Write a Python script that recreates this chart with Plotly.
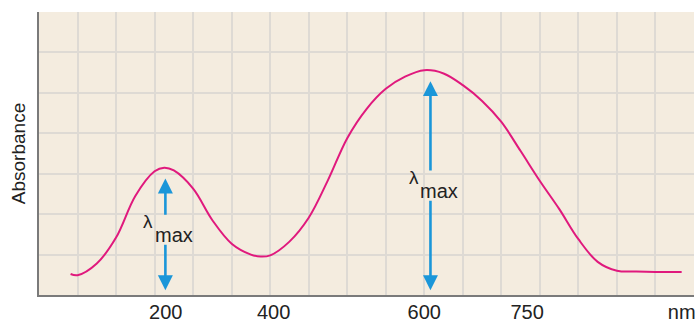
import plotly.graph_objects as go

# Curve (x in grid units, absorbance in grid units)
wave_pos = [0.82, 1.0, 1.5, 2.0, 2.5, 3.0, 3.25, 3.5, 4.0, 4.5, 5.0, 5.5, 5.75,
            6.0, 6.5, 7.0, 7.5, 8.0, 8.5, 9.0, 9.5, 10.0, 10.5, 11.0, 11.5, 12.0,
            12.5, 13.0, 13.5, 14.0, 14.5, 15.0, 15.5, 16.0, 16.68]
absorbance = [0.52, 0.49, 0.78, 1.42, 2.45, 3.06, 3.15, 3.08, 2.63, 1.85, 1.27, 1.00,
              0.95, 0.98, 1.32, 1.91, 2.84, 3.88, 4.60, 5.10, 5.40, 5.56, 5.48, 5.19,
              4.80, 4.28, 3.56, 2.82, 2.13, 1.38, 0.82, 0.60, 0.58, 0.57, 0.57]

tick_pos = [3.29, 6.09, 10.0, 12.67, 16.68]
tick_labels = ["200", "400", "600", "750", "nm"]

# lambda max markers: peak position, peak height, label gap (low, high)
peak_x = [3.28, 10.16]
peak_y = [3.15, 5.56]
gap_lo = [1.28, 2.37]
gap_hi = [1.95, 3.04]

BG = "#f4ecdf"
GRID = "#dedad4"
AXIS = "#7a7a7a"
CURVE = "#e0197d"
ARROW = "#1a96d9"
TEXT = "#222222"

fig = go.Figure()
fig.add_trace(
    go.Scatter(
        x=wave_pos,
        y=absorbance,
        mode="lines",
        line=dict(color=CURVE, width=2, shape="spline", smoothing=1),
        hoverinfo="skip",
    )
)
# invisible trace to hold the labelled axis
fig.add_trace(go.Scatter(x=tick_pos, y=[0] * len(tick_pos), xaxis="x2",
                         mode="markers", marker=dict(opacity=0), hoverinfo="skip"))

annotations = []
for px, py, lo, hi in zip(peak_x, peak_y, gap_lo, gap_hi):
    # upper arrow
    annotations.append(dict(x=px, y=py - 0.27, ax=px, ay=hi, xref="x", yref="y",
                            axref="x", ayref="y", text="", showarrow=True,
                            arrowhead=2, arrowsize=1.15, arrowwidth=2.6,
                            arrowcolor=ARROW, standoff=0, startstandoff=0))
    # lower arrow
    annotations.append(dict(x=px, y=0.12, ax=px, ay=lo, xref="x", yref="y",
                            axref="x", ayref="y", text="", showarrow=True,
                            arrowhead=2, arrowsize=1.15, arrowwidth=2.6,
                            arrowcolor=ARROW, standoff=0, startstandoff=0))
    annotations.append(dict(x=px - 0.44, y=(lo + hi) / 2 + 0.2, xref="x", yref="y",
                            text="λ", showarrow=False,
                            font=dict(size=19, color=TEXT)))
    annotations.append(dict(x=px + 0.22, y=(lo + hi) / 2 - 0.13, xref="x", yref="y",
                            text="max", showarrow=False,
                            font=dict(size=20, color=TEXT)))

fig.update_layout(
    width=699,
    height=324,
    margin=dict(l=39, r=5, t=12, b=29),
    paper_bgcolor="white",
    plot_bgcolor=BG,
    showlegend=False,
    font=dict(family="Liberation Sans, Arial, sans-serif", color=TEXT),
    annotations=annotations,
    xaxis=dict(
        range=[0, 17], dtick=1, tick0=0, showgrid=True, gridcolor=GRID, gridwidth=2,
        showticklabels=False, ticks="", zeroline=False, automargin=False,
        showline=True, linecolor=AXIS, linewidth=2, fixedrange=True,
    ),
    xaxis2=dict(
        range=[0, 17], overlaying="x", anchor="y", side="bottom",
        tickmode="array", tickvals=tick_pos, ticktext=tick_labels,
        showgrid=False, zeroline=False, ticks="", automargin=False,
        ticklabelstandoff=3,
        tickfont=dict(size=20, color=TEXT), fixedrange=True,
    ),
    yaxis=dict(
        range=[0, 7], dtick=1, tick0=0, showgrid=True, gridcolor=GRID, gridwidth=2,
        showticklabels=False, ticks="", zeroline=False, automargin=False,
        showline=True, linecolor=AXIS, linewidth=2, fixedrange=True,
        title=dict(text="Absorbance", font=dict(size=19, color=TEXT), standoff=6),
    ),
)

# page body has a default 8px margin; drop it so the figure sits at the corner
fig.write_html("out.html", config={"displayModeBar": False},
               post_script="document.body.style.margin='0';")
